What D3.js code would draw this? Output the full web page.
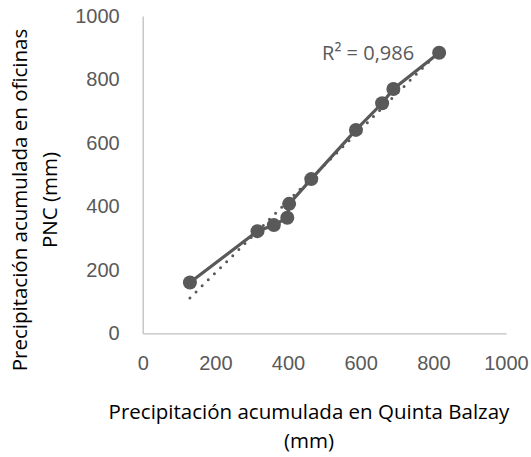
<!DOCTYPE html>
<meta charset="utf-8">
<title>Precipitación acumulada</title>
<style>
body { margin: 0; background: #fff; }
svg { display: block; font-family: "Open Sans", "Noto Sans", sans-serif; }
.tick text { fill: #595959; }
</style>
<svg width="531" height="457"></svg>
<script src="https://d3js.org/d3.v7.min.js"></script>
<script>
  // valores (mm)
  var quintaBalzay = [130, 316, 361, 398, 403, 464, 587, 659, 690, 816]
  var oficinasPNC = [160, 322, 341, 364, 408, 486, 641, 725, 770, 884]
  var xTicks = [0, 200, 400, 600, 800, 1000]
  var yTicks = [0, 200, 400, 600, 800, 1000]
  var r2Label = "R² = 0,986"

  var svg = d3.select("svg"),
    grey = "#595959"

  var x = d3.scaleLinear().domain([0, 1000]).range([142.7, 506]),
    y = d3.scaleLinear().domain([0, 1000]).range([333.3, 16])

  var points = quintaBalzay.map((d, i) => ({ x: d, y: oficinasPNC[i] }))

  // ejes
  var xAxis = svg.append("g").attr("transform", "translate(0," + y(0) + ")")
    .call(d3.axisBottom(x).tickValues(xTicks).tickFormat(d3.format("d")).tickSize(0).tickPadding(23))
  var yAxis = svg.append("g").attr("transform", "translate(" + x(0) + ",0)")
    .call(d3.axisLeft(y).tickValues(yTicks).tickFormat(d3.format("d")).tickSize(0).tickPadding(23))
  xAxis.selectAll("text").attr("font-size", "20px")
  yAxis.selectAll("text").attr("font-size", "20px")
  xAxis.select(".domain").attr("stroke", "#bfbfbf").attr("stroke-width", 1.3)
  yAxis.select(".domain").attr("stroke", "#bfbfbf").attr("stroke-width", 1.3)

  // linea de tendencia lineal (minimos cuadrados)
  var mx = d3.mean(points, (d) => d.x),
    my = d3.mean(points, (d) => d.y),
    sxy = d3.sum(points, (d) => (d.x - mx) * (d.y - my)),
    sxx = d3.sum(points, (d) => (d.x - mx) * (d.x - mx)),
    slope = sxy / sxx,
    icpt = my - slope * mx
  var xMin = d3.min(quintaBalzay), xMax = d3.max(quintaBalzay)

  svg.append("line")
    .attr("x1", x(xMin)).attr("y1", y(icpt + slope * xMin))
    .attr("x2", x(xMax)).attr("y2", y(icpt + slope * xMax))
    .attr("stroke", grey).attr("stroke-width", 3)
    .attr("stroke-linecap", "round").attr("stroke-dasharray", "0 8.6")

  // serie
  var line = d3.line().x((d) => x(d.x)).y((d) => y(d.y))
  svg.append("path").datum(points)
    .attr("d", line).attr("fill", "none")
    .attr("stroke", grey).attr("stroke-width", 3.2)

  svg.append("g").selectAll("circle").data(points).enter()
    .append("circle")
      .attr("cx", (d) => x(d.x)).attr("cy", (d) => y(d.y))
      .attr("r", 7).attr("fill", grey)

  var last = points[points.length - 1]
  svg.append("text")
    .attr("x", x(last.x) - 25).attr("y", y(last.y))
    .attr("dy", "0.35em").attr("text-anchor", "end")
    .attr("font-size", "20px").attr("fill", grey)
    .text(r2Label)

  // titulos
  var xTitle = svg.append("text").attr("text-anchor", "middle")
    .attr("font-size", "20.5px").attr("fill", "#000")
  xTitle.append("tspan").attr("x", 309).attr("y", 419).text("Precipitación acumulada en Quinta Balzay")
  xTitle.append("tspan").attr("x", 309).attr("y", 448).text("(mm)")

  var yTitle = svg.append("text").attr("text-anchor", "middle")
    .attr("font-size", "20.5px").attr("fill", "#000")
    .attr("transform", "translate(0,200) rotate(-90)")
  yTitle.append("tspan").attr("x", 0).attr("y", 27).text("Precipitación acumulada en oficinas")
  yTitle.append("tspan").attr("x", 0).attr("y", 57).text("PNC (mm)")
</script>
